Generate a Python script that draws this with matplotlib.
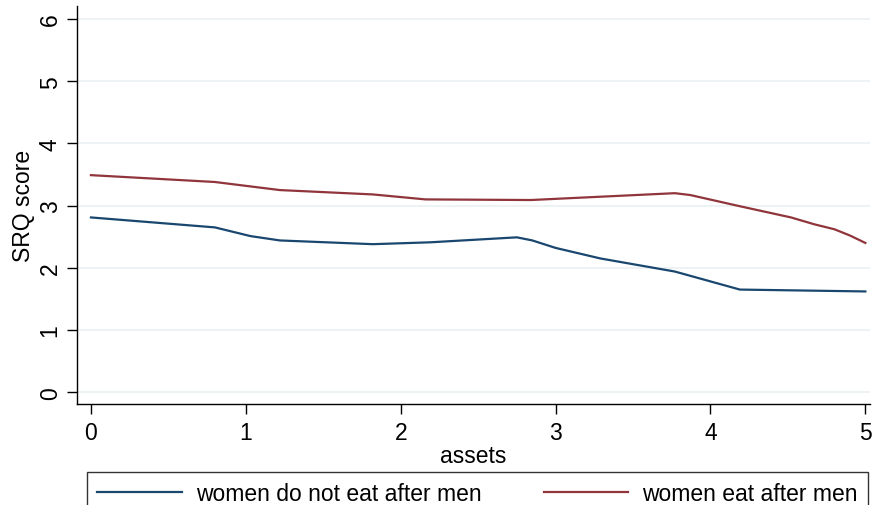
import matplotlib
matplotlib.use("Agg")
import matplotlib.pyplot as plt
from matplotlib.lines import Line2D

plt.rcParams['font.family'] = ['Liberation Sans', 'DejaVu Sans']

# lowess-like smoothed curves
assets_a = [0.0, 0.8, 1.03, 1.22, 1.82, 2.19, 2.75, 2.85, 3.0, 3.29, 3.77, 4.19, 5.0]
srq_a = [2.81, 2.65, 2.51, 2.44, 2.38, 2.41, 2.49, 2.44, 2.32, 2.15, 1.94, 1.65, 1.62]

assets_b = [0.0, 0.8, 1.22, 1.82, 2.16, 2.84, 3.77, 3.87, 4.19, 4.52, 4.67, 4.80, 4.9, 5.0]
srq_b = [3.49, 3.38, 3.25, 3.18, 3.10, 3.09, 3.20, 3.17, 2.99, 2.81, 2.70, 2.62, 2.52, 2.40]

labels = ['women do not eat after men', 'women eat after men']
colors = ['#1a476f', '#90353b']

fig = plt.figure(figsize=(8.73, 5.06), dpi=100)
ax = fig.add_axes([77/873, 1-405/506, (870-77)/873, (405-7)/506])

ax.plot(assets_a, srq_a, color=colors[0], lw=1.6)
ax.plot(assets_b, srq_b, color=colors[1], lw=1.6)

ax.set_xlim(-0.09, 5.03)
ax.set_ylim(-0.19, 6.21)
ax.set_xticks([0, 1, 2, 3, 4, 5])
ax.set_yticks([0, 1, 2, 3, 4, 5, 6])
ax.set_yticklabels(['0', '1', '2', '3', '4', '5', '6'], rotation=90, va='center')
ax.tick_params(labelsize=16.5, length=7, width=1, color='black', pad=5)
ax.tick_params(axis='y', pad=4)
ax.grid(axis='y', color='#eaf0f3', lw=1.2)
ax.set_axisbelow(True)
for s in ['top', 'right']:
    ax.spines[s].set_visible(False)
for s in ['left', 'bottom']:
    ax.spines[s].set_linewidth(1.0)

ax.set_xlabel('assets', fontsize=16.5, labelpad=0)
ax.set_ylabel('SRQ score', fontsize=16.5, labelpad=3)

handles = [Line2D([], [], color=c, lw=1.6) for c in colors]
leg = fig.legend(handles, labels, loc='upper left', ncol=2, mode='expand',
                 bbox_to_anchor=(87/873, 1-473/506, (868-87)/873, 0),
                 fontsize=16.5, frameon=True, fancybox=False, handlelength=3.7,
                 handletextpad=0.6, borderaxespad=0, borderpad=0.45, columnspacing=1.8)
leg.get_frame().set_edgecolor('black')
leg.get_frame().set_linewidth(1.0)

fig.savefig('out.png', dpi=100)
